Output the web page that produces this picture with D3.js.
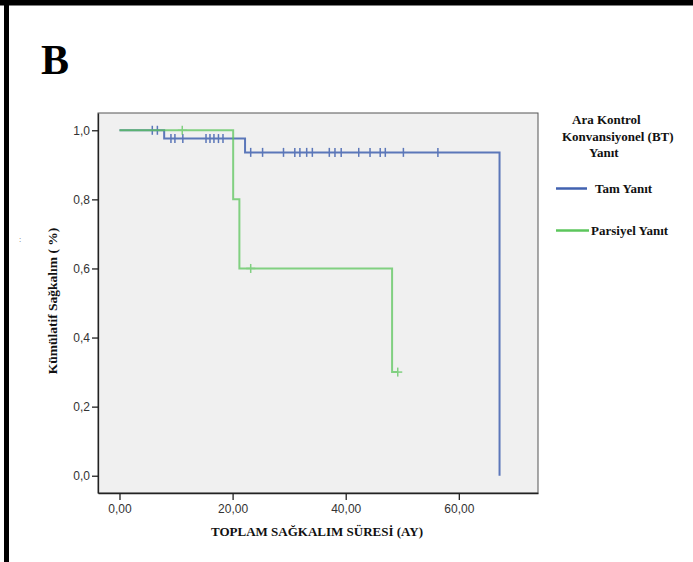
<!DOCTYPE html>
<html>
<head>
<meta charset="utf-8">
<script src="https://cdn.jsdelivr.net/npm/d3@7"></script>
<style>
  html, body { margin: 0; padding: 0; background: #fff; }
  svg { display: block; }
</style>
</head>
<body>
<script>
'use strict';

// Kaplan-Meier steps (months, cumulative survival)
var tamTimes = [0, 7.9, 22.2, 67.2];
var tamSurv = [1, 0.976, 0.936, 0];
var tamEnd = 67.2;
var tamCensor = [5.8, 6.7, 9.1, 9.8, 11.2, 15.3, 16.0, 16.7, 17.5, 18.3,
  23.2, 25.3, 29.0, 31.0, 31.9, 33.1, 34.1, 37.1, 38.1, 39.2, 42.3, 44.3,
  46.1, 47.0, 50.2, 56.3];

var parTimes = [0, 20.1, 21.2, 48.2];
var parSurv = [1, 0.8, 0.6, 0.3];
var parEnd = 49.2;
var parCensor = [11.1, 23.2, 49.2];

var xTicks = [0, 20, 40, 60];
var yTicks = [0, 0.2, 0.4, 0.6, 0.8, 1.0];
var legendTitle = ['Ara Kontrol', 'Konvansiyonel (BT)', 'Yanıt'];
var legendLabels = ['Tam Yanıt', 'Parsiyel Yanıt'];

var W = 693, H = 562;
var plot = {left: 98, right: 538, top: 113, bottom: 493};
var blue = '#4262b0';
var green = '#5cc65c';
var serif = '"Liberation Serif", "Times New Roman", serif';
var sans = '"Liberation Sans", Arial, sans-serif';

var svg = d3.select('body').append('svg')
  .attr('width', W)
  .attr('height', H);

// page frame
svg.append('rect').attr('x', 0).attr('y', 0).attr('width', W).attr('height', 5.5).attr('fill', '#000');
svg.append('rect').attr('x', 4).attr('y', 0).attr('width', 5).attr('height', H).attr('fill', '#000');

svg.append('text')
  .attr('x', 41).attr('y', 74)
  .style('font-family', serif).style('font-weight', 'bold').style('font-size', '42px')
  .text('B');

svg.append('text')
  .attr('x', 19).attr('y', 242)
  .style('font-family', sans).style('font-size', '8px').style('fill', '#666')
  .text(':');

var x = d3.scaleLinear().domain([-3.8, 74.0]).range([plot.left, plot.right]);
var y = d3.scaleLinear().domain([-0.05, 1.05]).range([plot.bottom, plot.top]);

svg.append('rect')
  .attr('x', plot.left).attr('y', plot.top)
  .attr('width', plot.right - plot.left).attr('height', plot.bottom - plot.top)
  .attr('fill', '#f0f0f0')
  .attr('stroke', '#555').attr('stroke-width', 1);

var fmt = function (d) { return d3.format('.1f')(d).replace('.', ','); };
var fmtX = function (d) { return d3.format('.2f')(d).replace('.', ','); };

var yAxis = svg.append('g')
  .attr('transform', 'translate(' + plot.left + ',0)')
  .call(d3.axisLeft(y).tickValues(yTicks).tickFormat(fmt)
    .tickSizeInner(6).tickSizeOuter(0).tickPadding(2));
var xAxis = svg.append('g')
  .attr('transform', 'translate(0,' + plot.bottom + ')')
  .call(d3.axisBottom(x).tickValues(xTicks).tickFormat(fmtX)
    .tickSizeInner(7).tickSizeOuter(0).tickPadding(4));

[xAxis, yAxis].forEach(function (g) {
  g.select('.domain').attr('stroke', '#222').attr('stroke-width', 1.3);
  g.selectAll('.tick line').attr('stroke', '#222').attr('stroke-width', 1.3);
  g.selectAll('.tick text')
    .style('font-family', sans).style('font-size', '12px').style('fill', '#333');
});

function stepPoints (times, surv, end) {
  var pts = [];
  for (var i = 0; i < times.length; i++) {
    if (i > 0) pts.push([times[i], surv[i - 1]]);
    pts.push([times[i], surv[i]]);
  }
  if (end > times[times.length - 1]) pts.push([end, surv[surv.length - 1]]);
  return pts;
}

function survAt (times, surv, t) {
  var s = surv[0];
  for (var i = 0; i < times.length; i++) if (t >= times[i]) s = surv[i];
  return s;
}

var line = d3.line().x(function (d) { return x(d[0]); }).y(function (d) { return y(d[1]); });

function drawGroup (times, surv, end, censor, color, opacity, plus) {
  var g = svg.append('g').attr('opacity', opacity);
  g.append('path')
    .attr('d', line(stepPoints(times, surv, end)))
    .attr('fill', 'none')
    .attr('stroke', color)
    .attr('stroke-width', 2);
  censor.forEach(function (t) {
    var cx = x(t), cy = y(survAt(times, surv, t));
    g.append('line')
      .attr('x1', cx).attr('x2', cx).attr('y1', cy - 4.5).attr('y2', cy + 4.5)
      .attr('stroke', color).attr('stroke-width', 1.5);
    if (plus) {
      g.append('line')
        .attr('x1', cx - 4.5).attr('x2', cx + 4.5).attr('y1', cy).attr('y2', cy)
        .attr('stroke', color).attr('stroke-width', 1.5);
    }
  });
}

drawGroup(tamTimes, tamSurv, tamEnd, tamCensor, blue, 0.85, false);
drawGroup(parTimes, parSurv, parEnd, parCensor, green, 0.75, true);

// axis titles
svg.append('text')
  .attr('x', 317).attr('y', 536)
  .attr('text-anchor', 'middle')
  .style('font-family', serif).style('font-weight', 'bold').style('font-size', '13px')
  .style('fill', '#111')
  .text('TOPLAM SAĞKALIM SÜRESİ (AY)');

svg.append('text')
  .attr('transform', 'translate(57,301) rotate(-90)')
  .attr('text-anchor', 'middle')
  .style('font-family', serif).style('font-weight', 'bold').style('font-size', '13.5px')
  .style('fill', '#111')
  .text('Kümülatif Sağkalım ( %)');

// legend
var legendX = [572, 562, 589];
legendTitle.forEach(function (t, i) {
  svg.append('text')
    .attr('x', legendX[i]).attr('y', 124 + i * 16.5)
    .style('font-family', serif).style('font-weight', 'bold').style('font-size', '13px')
    .style('fill', '#111')
    .text(t);
});

var legendColors = [blue, green];
var legendY = [188.5, 230.5];
var legendTextX = [595, 591];
legendLabels.forEach(function (t, i) {
  svg.append('line')
    .attr('x1', 556).attr('x2', i === 0 ? 587 : 589)
    .attr('y1', legendY[i]).attr('y2', legendY[i])
    .attr('stroke', legendColors[i]).attr('stroke-width', 2.5);
  svg.append('text')
    .attr('x', legendTextX[i]).attr('y', legendY[i] + 4.5)
    .style('font-family', serif).style('font-weight', 'bold').style('font-size', '13px')
    .style('fill', '#111')
    .text(t);
});
</script>
</body>
</html>
